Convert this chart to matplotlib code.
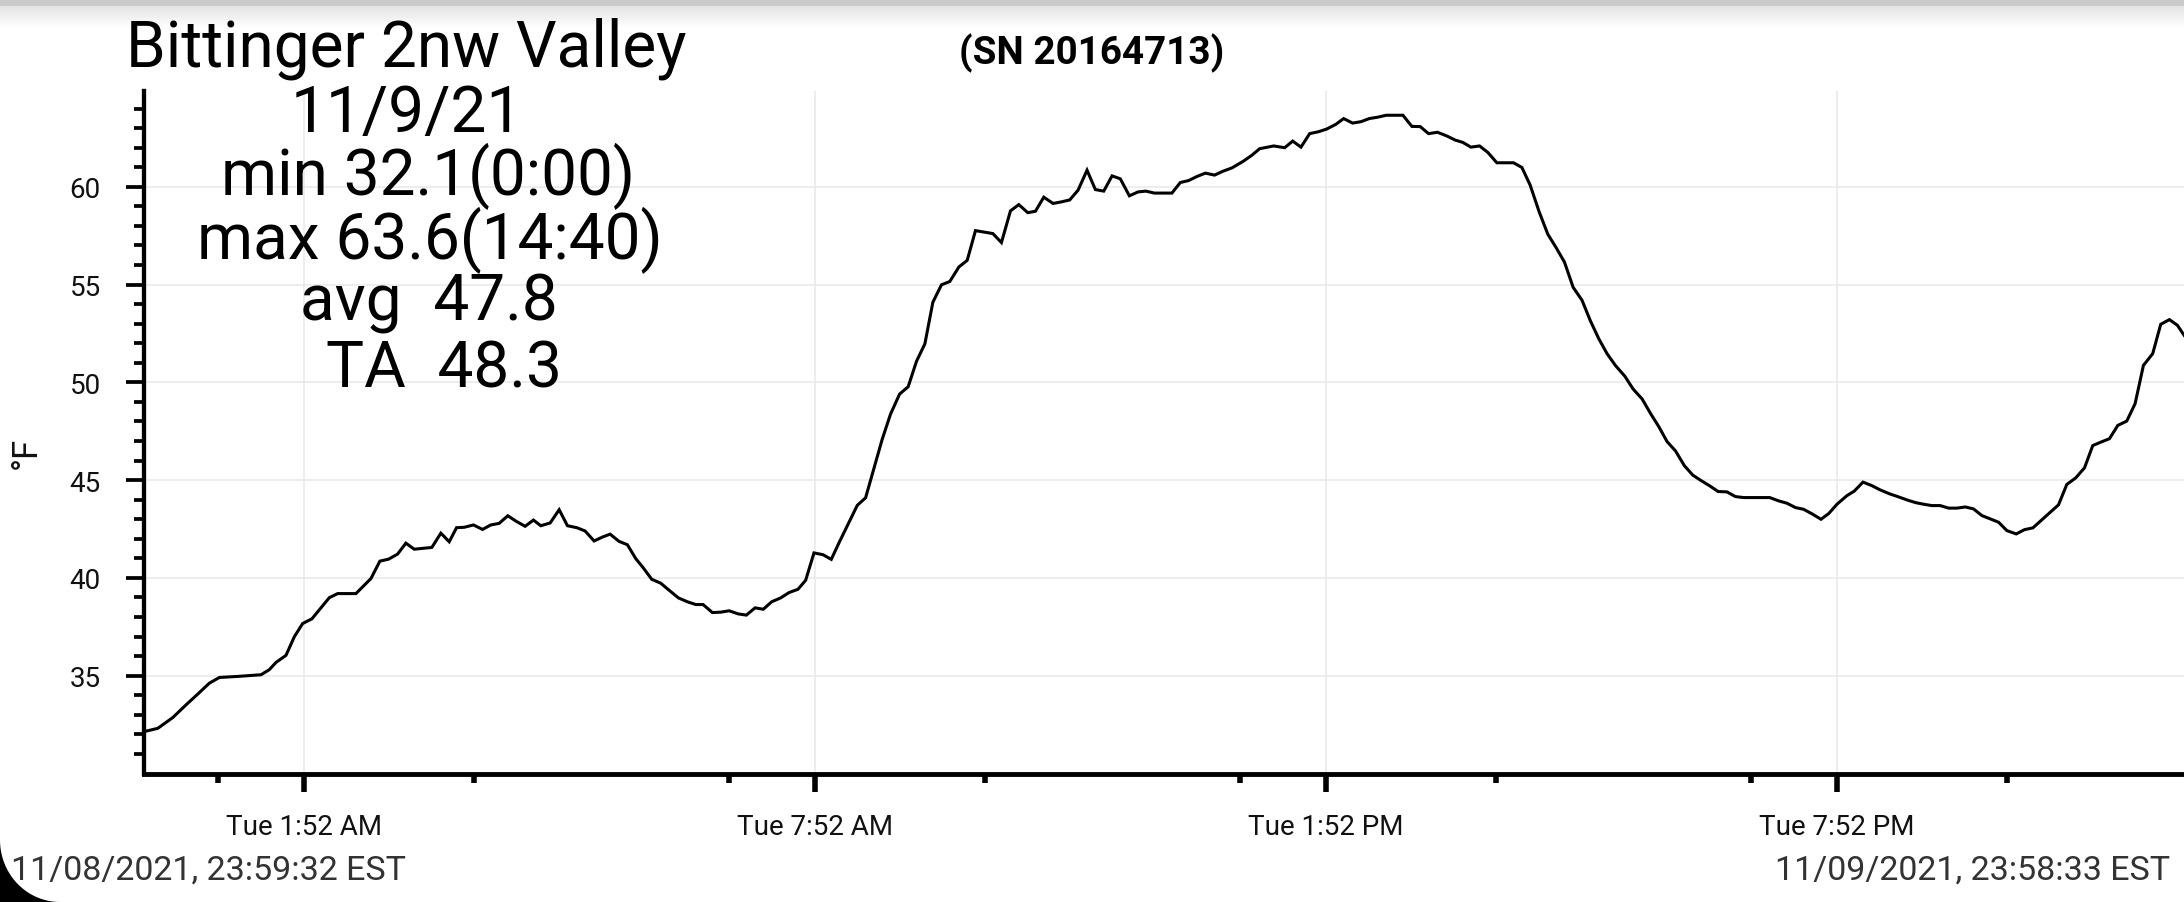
import datetime as dt
import numpy as np
import matplotlib
matplotlib.use("Agg")
import matplotlib.pyplot as plt
from matplotlib.patches import Polygon

plt.rcParams['font.family'] = ['Roboto', 'DejaVu Sans']

# hours after midnight 11/09/2021 and temperature in F
hours = [-0.008, 0.154, 0.330, 0.486, 0.623, 0.760, 0.877, 1.112, 1.366, 1.464,
         1.542, 1.659, 1.757, 1.855, 1.964, 2.168, 2.266, 2.481, 2.657, 2.762,
         2.864, 2.970, 3.067, 3.165, 3.372, 3.478, 3.576, 3.662, 3.752, 3.861,
         3.967, 4.064, 4.162, 4.264, 4.358, 4.467, 4.565, 4.651, 4.761, 4.867,
         4.964, 5.074, 5.172, 5.277, 5.375, 5.465, 5.570, 5.668, 5.766, 5.852,
         5.954, 6.060, 6.158, 6.267, 6.373, 6.471, 6.557, 6.666, 6.764, 6.862,
         6.971, 7.065, 7.167, 7.264, 7.362, 7.468, 7.565, 7.671, 7.761, 7.859,
         7.964, 8.062, 8.152, 8.261, 8.367, 8.465, 8.660, 8.758, 8.864, 8.965,
         9.063, 9.161, 9.255, 9.356, 9.454, 9.560, 9.658, 9.755, 9.853, 9.959,
         10.060, 10.166, 10.264, 10.369, 10.459, 10.557, 10.666, 10.764, 10.862, 10.960,
         11.065, 11.163, 11.261, 11.359, 11.456, 11.562, 11.664, 11.757, 11.855, 11.960,
         12.062, 12.160, 12.258, 12.356, 12.454, 12.563, 12.657, 12.768, 12.904, 13.002,
         13.092, 13.257, 13.386, 13.480, 13.577, 13.679, 13.785, 13.882, 13.988, 14.078,
         14.183, 14.281, 14.379, 14.477, 14.578, 14.676, 14.774, 14.879, 14.977, 15.075,
         15.180, 15.290, 15.388, 15.478, 15.572, 15.674, 15.771, 15.877, 15.975, 16.073,
         16.171, 16.268, 16.374, 16.476, 16.573, 16.671, 16.773, 16.877, 16.975, 17.074,
         17.172, 17.270, 17.379, 17.477, 17.583, 17.680, 17.778, 17.876, 17.974, 18.079,
         18.177, 18.278, 18.376, 18.474, 18.579, 18.678, 18.775, 18.880, 18.980, 19.081,
         19.186, 19.284, 19.382, 19.479, 19.585, 19.683, 19.773, 19.871, 19.988, 20.074,
         20.176, 20.275, 20.379, 20.489, 20.590, 20.692, 20.795, 20.900, 20.985, 21.083,
         21.181, 21.279, 21.377, 21.474, 21.572, 21.670, 21.768, 21.866, 21.975, 22.073,
         22.171, 22.268, 22.374, 22.472, 22.569, 22.675, 22.777, 22.874, 22.972, 23.070,
         23.168, 23.273, 23.371, 23.469, 23.578, 23.672, 23.774, 23.868, 23.946]
temps = [32.14, 32.31, 32.86, 33.51, 34.06, 34.62, 34.91, 34.97, 35.05, 35.31,
         35.68, 36.04, 36.99, 37.67, 37.91, 38.99, 39.20, 39.20, 39.97, 40.86,
         40.96, 41.22, 41.78, 41.47, 41.56, 42.29, 41.85, 42.57, 42.59, 42.71,
         42.48, 42.71, 42.79, 43.18, 42.91, 42.64, 42.96, 42.67, 42.81, 43.49,
         42.67, 42.57, 42.40, 41.89, 42.09, 42.24, 41.87, 41.70, 40.99, 40.53,
         39.93, 39.73, 39.37, 38.98, 38.78, 38.64, 38.64, 38.23, 38.25, 38.32,
         38.16, 38.10, 38.47, 38.40, 38.78, 38.98, 39.25, 39.42, 39.88, 41.28,
         41.19, 40.95, 41.79, 42.77, 43.71, 44.10, 47.09, 48.38, 49.40, 49.78,
         51.08, 51.97, 54.10, 54.99, 55.16, 55.90, 56.24, 57.76, 57.69, 57.61,
         57.15, 58.77, 59.09, 58.68, 58.75, 59.47, 59.15, 59.23, 59.33, 59.83,
         60.85, 59.86, 59.78, 60.56, 60.41, 59.54, 59.74, 59.78, 59.68, 59.68,
         59.68, 60.22, 60.32, 60.53, 60.70, 60.60, 60.79, 60.97, 61.32, 61.62,
         61.95, 62.09, 62.00, 62.34, 62.03, 62.72, 62.82, 62.96, 63.20, 63.49,
         63.26, 63.33, 63.49, 63.56, 63.66, 63.66, 63.66, 63.09, 63.08, 62.72,
         62.79, 62.60, 62.39, 62.27, 62.03, 62.09, 61.76, 61.23, 61.23, 61.23,
         60.99, 60.09, 58.72, 57.57, 56.89, 56.15, 54.86, 54.20, 53.15, 52.23,
         51.46, 50.86, 50.32, 49.66, 49.15, 48.42, 47.74, 46.97, 46.50, 45.74,
         45.26, 44.97, 44.71, 44.42, 44.40, 44.16, 44.11, 44.11, 44.11, 44.11,
         43.94, 43.82, 43.60, 43.51, 43.26, 43.00, 43.29, 43.77, 44.21, 44.44,
         44.90, 44.73, 44.50, 44.30, 44.15, 43.99, 43.85, 43.76, 43.70, 43.70,
         43.57, 43.57, 43.63, 43.53, 43.19, 43.02, 42.85, 42.42, 42.25, 42.47,
         42.56, 42.94, 43.36, 43.74, 44.78, 45.12, 45.63, 46.77, 46.95, 47.12,
         47.80, 48.02, 48.91, 50.87, 51.47, 52.97, 53.21, 52.92, 52.41]

major_hours = [1 + 52 / 60, 7 + 52 / 60, 13 + 52 / 60, 19 + 52 / 60]
major_labels = ["Tue 1:52 AM", "Tue 7:52 AM", "Tue 1:52 PM", "Tue 7:52 PM"]
minor_hours = [0 + 52 / 60, 3 + 52 / 60, 6 + 52 / 60, 9 + 52 / 60,
               12 + 52 / 60, 15 + 52 / 60, 18 + 52 / 60, 21 + 52 / 60]
y_major = [35, 40, 45, 50, 55, 60]
y_minor = [v for v in range(31, 65) if v % 5 != 0]

title_lines = ["Bittinger 2nw Valley", "11/9/21", "min 32.1(0:00)",
               "max 63.6(14:40)", "avg  47.8", "TA  48.3"]
start_text = "11/08/2021, 23:59:32 EST"
end_text = "11/09/2021, 23:58:33 EST"

W, H = 2184, 903
day0 = dt.datetime(2021, 11, 9)
to_time = lambda h: day0 + dt.timedelta(hours=h)

fig = plt.figure(figsize=(W / 100, H / 100), dpi=100)
fig.patch.set_facecolor("white")

# screenshot shadow band at the top
band = fig.add_axes([0, 1 - 30 / H, 1, 30 / H])
grad = np.concatenate([np.full(7, 0.79), np.linspace(0.89, 1.0, 23)])
band.imshow(grad[:, None], cmap="gray", vmin=0, vmax=1, aspect="auto",
            interpolation="nearest")
band.axis("off")

ax = fig.add_axes([144 / W, (H - 774.5) / H, (2186.6 - 144) / W, (774.5 - 92) / H])
ax.plot([to_time(h) for h in hours], temps, color="black", lw=2.2,
        solid_joinstyle="miter")
ax.set_xlim(dt.datetime(2021, 11, 8, 23, 59, 32), dt.datetime(2021, 11, 9, 23, 58, 33))
ax.set_ylim(30, 64.9)

ax.set_xticks([to_time(h) for h in major_hours], labels=major_labels)
ax.set_xticks([to_time(h) for h in minor_hours], minor=True)
ax.set_yticks(y_major)
ax.set_yticks(y_minor, minor=True)

ax.grid(True, which="major", color="#e8e8e8", lw=1.1)
ax.set_axisbelow(True)
for s in ["top", "right"]:
    ax.spines[s].set_visible(False)
ax.spines["left"].set_linewidth(3.1)
ax.spines["bottom"].set_linewidth(3.5)

ax.tick_params(axis="x", which="major", length=12.6, width=4, pad=15.5,
               labelsize=20, labelcolor="#111111")
ax.tick_params(axis="x", which="minor", length=6.8, width=4)
ax.tick_params(axis="y", which="major", length=13, width=2.7, pad=18,
               labelsize=20, labelcolor="#111111")
ax.tick_params(axis="y", which="minor", length=7.5, width=2.7)

fig.text(26.5 / W, 1 - 453 / H, "°F", rotation=90, ha="center", va="center",
         fontsize=25, color="#111111")

# station info block
centers = [406, 407, 428, 430, 429, 444]
baselines = [67, 132, 195, 259, 321, 388]
for txt, cx, by in zip(title_lines, centers, baselines):
    fig.text(cx / W, 1 - by / H, txt, ha="center", va="baseline",
             fontsize=46, color="black")

fig.text(1091.5 / W, 1 - 64 / H, "(SN 20164713)", ha="center", va="baseline",
         fontsize=27.8, fontweight="bold", color="black")

fig.text(11 / W, 1 - 880 / H, start_text, ha="left", va="baseline",
         fontsize=24.5, color="#333333")
fig.text(2170 / W, 1 - 880 / H, end_text, ha="right", va="baseline",
         fontsize=24.5, color="#333333")

# rounded screen corner at bottom left
th = np.linspace(0, np.pi / 2, 40)
pts = np.column_stack([0.6 - 0.6 * np.cos(th), 0.62 - 0.62 * np.sin(th)])
pts = np.vstack([pts, [[0, 0]]])
fig.add_artist(Polygon(pts, closed=True, facecolor="black", edgecolor="none",
                       transform=fig.dpi_scale_trans))

fig.savefig("out.png", dpi=100)
